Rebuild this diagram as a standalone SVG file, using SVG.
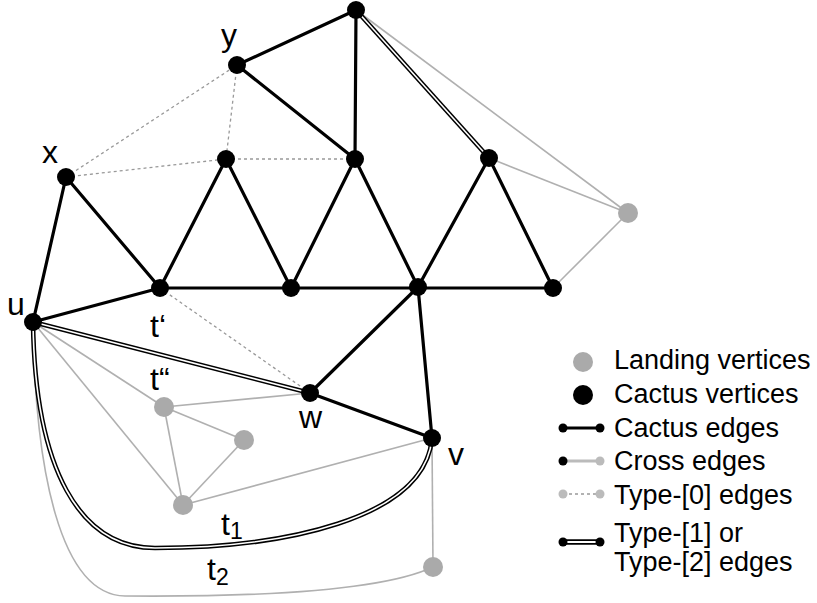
<svg xmlns="http://www.w3.org/2000/svg" width="817" height="603" viewBox="0 0 817 603">
<style>
.bg{fill:#fff}
.cac{stroke:#000;stroke-width:3.2;fill:none;stroke-linecap:round}
.crs{stroke:#b0b0b0;stroke-width:1.6;fill:none}
.t0{stroke:#999;stroke-width:1.3;stroke-dasharray:3,3;fill:none}
.dblo{stroke:#000;stroke-width:4.6;fill:none}
.dbli{stroke:#fff;stroke-width:1.6;fill:none}
.cv{fill:#000}
.lv{fill:#aaa}
.lbl{font-family:"Liberation Sans",Arial,sans-serif;font-size:32px;fill:#000}
.sub{font-size:23px}
.leg{font-family:"Liberation Sans",Arial,sans-serif;font-size:27px;fill:#000}
</style>
<rect class="bg" x="0" y="0" width="817" height="603"/>
<g id="connectors">
  <path class="crs" d="M33,322 C35,470 60,595 125,596 C250,597 380,592 433,567"/>
  <line class="crs" x1="356" y1="10" x2="628" y2="213"/>
  <line class="crs" x1="489" y1="158" x2="628" y2="213"/>
  <line class="crs" x1="553" y1="288" x2="628" y2="213"/>
  <line class="crs" x1="33" y1="322" x2="164" y2="407"/>
  <line class="crs" x1="33" y1="322" x2="183" y2="505"/>
  <line class="crs" x1="164" y1="407" x2="310" y2="393"/>
  <line class="crs" x1="164" y1="407" x2="244" y2="440"/>
  <line class="crs" x1="164" y1="407" x2="183" y2="505"/>
  <line class="crs" x1="244" y1="440" x2="183" y2="505"/>
  <line class="crs" x1="183" y1="505" x2="432" y2="438"/>
  <line class="crs" x1="432" y1="438" x2="433" y2="567"/>
  <line class="t0" x1="66" y1="177" x2="237" y2="65"/>
  <line class="t0" x1="66" y1="177" x2="226" y2="159"/>
  <line class="t0" x1="237" y1="65" x2="226" y2="159"/>
  <line class="t0" x1="226" y1="159" x2="355" y2="159"/>
  <line class="t0" x1="160" y1="288" x2="310" y2="393"/>
  <line class="dblo" x1="356" y1="10" x2="489" y2="158"/>
  <line class="dbli" x1="356" y1="10" x2="489" y2="158"/>
  <line class="dblo" x1="33" y1="322" x2="310" y2="393"/>
  <line class="dbli" x1="33" y1="322" x2="310" y2="393"/>
  <path class="dblo" d="M33,322 C35,470 80,548 155,548 C280,548 425,520 432,438"/>
  <path class="dbli" d="M33,322 C35,470 80,548 155,548 C280,548 425,520 432,438"/>
  <line class="cac" x1="356" y1="10" x2="237" y2="65"/>
  <line class="cac" x1="237" y1="65" x2="355" y2="159"/>
  <line class="cac" x1="356" y1="10" x2="355" y2="159"/>
  <line class="cac" x1="66" y1="177" x2="33" y2="322"/>
  <line class="cac" x1="66" y1="177" x2="160" y2="288"/>
  <line class="cac" x1="33" y1="322" x2="160" y2="288"/>
  <line class="cac" x1="160" y1="288" x2="226" y2="159"/>
  <line class="cac" x1="226" y1="159" x2="291" y2="288"/>
  <line class="cac" x1="291" y1="288" x2="355" y2="159"/>
  <line class="cac" x1="355" y1="159" x2="418" y2="287"/>
  <line class="cac" x1="418" y1="287" x2="489" y2="158"/>
  <line class="cac" x1="489" y1="158" x2="553" y2="288"/>
  <line class="cac" x1="160" y1="288" x2="553" y2="288"/>
  <line class="cac" x1="418" y1="287" x2="310" y2="393"/>
  <line class="cac" x1="310" y1="393" x2="432" y2="438"/>
  <line class="cac" x1="418" y1="287" x2="432" y2="438"/>
</g>
<g id="n-top"><circle class="cv" cx="356" cy="10" r="9"/></g>
<g id="n-y"><circle class="cv" cx="237" cy="65" r="9"/><text class="lbl" x="221" y="46">y</text></g>
<g id="n-x"><circle class="cv" cx="66" cy="177" r="9"/><text class="lbl" x="42" y="163">x</text></g>
<g id="n-a1"><circle class="cv" cx="226" cy="159" r="9"/></g>
<g id="n-a2"><circle class="cv" cx="355" cy="159" r="9"/></g>
<g id="n-a3"><circle class="cv" cx="489" cy="158" r="9"/></g>
<g id="n-t1p"><circle class="cv" cx="160" cy="288" r="9"/><text class="lbl" x="150" y="337">t‘</text></g>
<g id="n-b1"><circle class="cv" cx="291" cy="288" r="9"/></g>
<g id="n-b2"><circle class="cv" cx="418" cy="287" r="9"/></g>
<g id="n-b3"><circle class="cv" cx="553" cy="288" r="9"/></g>
<g id="n-u"><circle class="cv" cx="33" cy="322" r="9"/><text class="lbl" x="7" y="315">u</text></g>
<g id="n-w"><circle class="cv" cx="310" cy="393" r="9"/><text class="lbl" x="299" y="428">w</text></g>
<g id="n-v"><circle class="cv" cx="432" cy="438" r="9"/><text class="lbl" x="448" y="465">v</text></g>
<g id="n-L1"><circle class="lv" cx="628" cy="213" r="10"/></g>
<g id="n-t2p"><circle class="lv" cx="164" cy="407" r="10"/><text class="lbl" x="150" y="390">t“</text></g>
<g id="n-L3"><circle class="lv" cx="244" cy="440" r="10"/></g>
<g id="n-L4"><circle class="lv" cx="183" cy="505" r="10"/></g>
<g id="n-L5"><circle class="lv" cx="433" cy="567" r="10"/></g>
<g id="lbl-t1"><text class="lbl" x="221" y="535">t<tspan class="sub" dy="4">1</tspan></text></g>
<g id="lbl-t2"><text class="lbl" x="207" y="580">t<tspan class="sub" dy="5">2</tspan></text></g>
<g id="legend">
  <circle class="lv" cx="583" cy="362" r="10"/>
  <text class="leg" x="614" y="369">Landing vertices</text>
  <circle class="cv" cx="583" cy="395" r="10"/>
  <text class="leg" x="614" y="403">Cactus vertices</text>
  <line class="cac" x1="563" y1="428" x2="600" y2="428"/>
  <circle class="cv" cx="563" cy="428" r="4.5"/><circle class="cv" cx="600" cy="428" r="4.5"/>
  <text class="leg" x="614" y="437">Cactus edges</text>
  <line stroke="#bbb" stroke-width="3" x1="563" y1="461" x2="600" y2="461"/>
  <circle class="cv" cx="563" cy="461" r="4.5"/><circle fill="#bbb" cx="600" cy="461" r="4.5"/>
  <text class="leg" x="614" y="470">Cross edges</text>
  <line class="t0" x1="563" y1="494" x2="600" y2="494"/>
  <circle fill="#bbb" cx="563" cy="494" r="4.5"/><circle fill="#bbb" cx="600" cy="494" r="4.5"/>
  <text class="leg" x="614" y="504">Type-[0] edges</text>
  <line stroke="#000" stroke-width="5.5" x1="563" y1="542" x2="600" y2="542"/>
  <line stroke="#fff" stroke-width="2" x1="563" y1="542" x2="600" y2="542"/>
  <circle class="cv" cx="563" cy="542" r="4.5"/><circle class="cv" cx="600" cy="542" r="4.5"/>
  <text class="leg" x="614" y="542">Type-[1] or</text>
  <text class="leg" x="614" y="571">Type-[2] edges</text>
</g>
</svg>
